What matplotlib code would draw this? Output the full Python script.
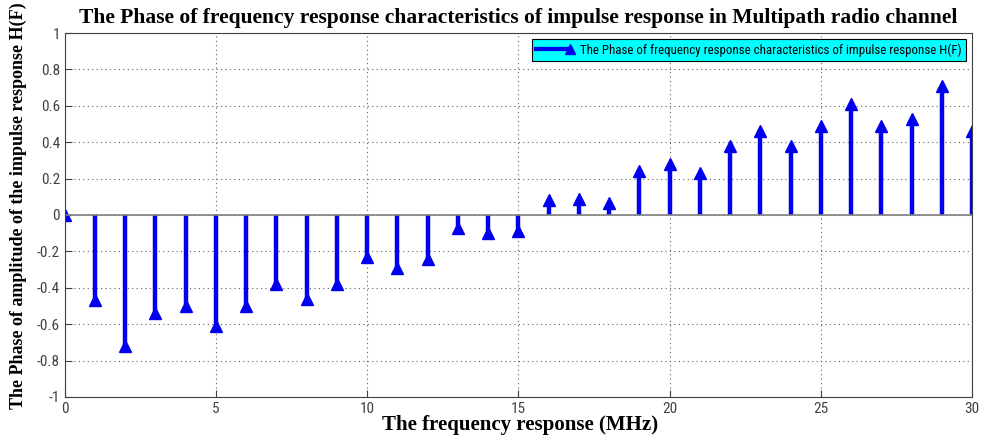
import matplotlib
matplotlib.use("Agg")
import matplotlib.pyplot as plt
from matplotlib.lines import Line2D
from matplotlib.legend_handler import HandlerBase
from matplotlib import font_manager

freq = list(range(31))
phase = [0.0, -0.47, -0.72, -0.54, -0.50, -0.61, -0.50, -0.38, -0.46, -0.38,
         -0.23, -0.29, -0.24, -0.07, -0.10, -0.09, 0.08, 0.09, 0.065, 0.24,
         0.28, 0.23, 0.38, 0.46, 0.38, 0.49, 0.61, 0.49, 0.53, 0.71, 0.46]
xticks = [0, 5, 10, 15, 20, 25, 30]
yticks = [-1, -0.8, -0.6, -0.4, -0.2, 0, 0.2, 0.4, 0.6, 0.8, 1]
ytick_labels = ["-1", "-0.8", "-0.6", "-0.4", "-0.2", "0", "0.2", "0.4", "0.6", "0.8", "1"]

title = "The Phase of frequency response characteristics of impulse response in Multipath radio channel"
xlabel = "The frequency response (MHz)"
ylabel = "The Phase of amplitude of the impulse response H(F)"
legend_label = "The Phase of frequency response characteristics of impulse response H(F)"

avail = {f.name for f in font_manager.fontManager.ttflist}
narrow = [f for f in ["Liberation Sans Narrow", "Roboto Condensed", "DejaVu Sans Condensed"] if f in avail]
tick_family = narrow + ["DejaVu Sans"]
serif = ["Liberation Serif", "DejaVu Serif"]

fig = plt.figure(figsize=(9.81, 4.41), dpi=100)
ax = fig.add_axes([0.066, 0.1, 0.925, 0.825])

blue = "#0000ee"
ml, sl, bl = ax.stem(freq, phase, linefmt="-", markerfmt="^", basefmt="-")
plt.setp(sl, color=blue, linewidth=3.2)
plt.setp(ml, color=blue, markerfacecolor=blue, markeredgecolor=blue, markersize=8)
plt.setp(bl, color="#808080", linewidth=1.2)

ax.set_xlim(0, 30)
ax.set_ylim(-1, 1)
ax.set_xticks(xticks)
ax.set_yticks(yticks)
ax.set_yticklabels(ytick_labels)
ax.grid(True, linestyle=(0, (1, 3)), color="#606060", linewidth=0.8)
ax.set_axisbelow(True)
ax.tick_params(direction="in", length=5, color="#404040")
for lab in ax.get_xticklabels() + ax.get_yticklabels():
    lab.set_family(tick_family)
    lab.set_fontsize(11)
    lab.set_color("#404040")
for s in ax.spines.values():
    s.set_color("#404040")
    s.set_linewidth(0.8)

ax.set_title(title, family=serif, fontweight="bold", fontsize=15.5, pad=7)
ax.set_xlabel(xlabel, family=serif, fontweight="bold", fontsize=15, labelpad=0)
ax.xaxis.set_label_coords(0.502, -0.05)
ax.set_ylabel(ylabel, family=serif, fontweight="bold", fontsize=13, labelpad=5)
ax.yaxis.set_label_coords(-0.042, 0.525)


class StemLegendHandler(HandlerBase):
    def create_artists(self, legend, orig_handle, xdescent, ydescent, width, height, fontsize, trans):
        y = height / 2 - ydescent
        line = Line2D([-xdescent, width - xdescent], [y, y], color=blue, linewidth=3.0, transform=trans)
        mk = Line2D([width - xdescent], [y], marker="^", color=blue, markersize=7, transform=trans)
        return [line, mk]


handle = Line2D([0], [0], color=blue)
leg = ax.legend([handle], [legend_label], loc="upper right", handler_map={Line2D: StemLegendHandler()},
                prop={"family": tick_family, "size": 9.3}, fancybox=False, framealpha=1,
                borderpad=0.35, handlelength=2.6, borderaxespad=0.45)
leg.get_frame().set_facecolor("#00ffff")
leg.get_frame().set_edgecolor("black")
leg.get_frame().set_linewidth(0.8)

fig.savefig("out.png", dpi=100)
